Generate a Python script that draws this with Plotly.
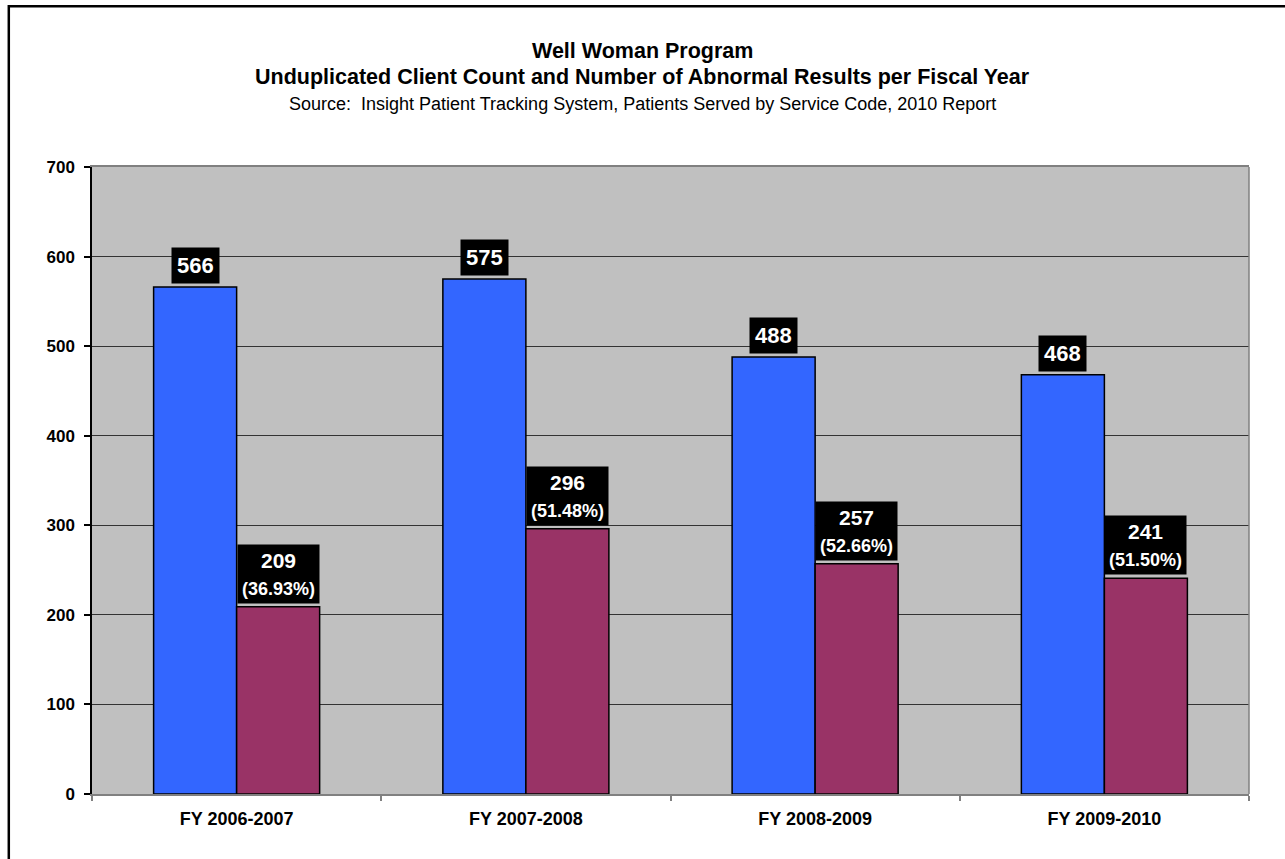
import plotly.graph_objects as go

categories = ["FY 2006-2007", "FY 2007-2008", "FY 2008-2009", "FY 2009-2010"]
client_count = [566, 575, 488, 468]
abnormal_results = [209, 296, 257, 241]
abnormal_pct = ["36.93%", "51.48%", "52.66%", "51.50%"]
y_ticks = [0, 100, 200, 300, 400, 500, 600, 700]

FONT = "Liberation Sans, Arial, sans-serif"
BARGAP = 0.426
W, H = 1285, 859
L, R, T, B = 92, 36, 167, 65
PW, PH = W - L - R, H - T - B

def py(pix):
    return (H - B - pix) / PH

def px(pix):
    return (pix - L) / PW

fig = go.Figure()
fig.add_trace(go.Bar(x=categories, y=client_count, name="Unduplicated Client Count",
                     marker=dict(color="#3366FF", line=dict(color="black", width=1.5))))
fig.add_trace(go.Bar(x=categories, y=abnormal_results, name="Abnormal Results",
                     marker=dict(color="#993366", line=dict(color="black", width=1.5))))

half = (1 - BARGAP) / 4
annotations = []
for i, (c, a, p) in enumerate(zip(client_count, abnormal_results, abnormal_pct)):
    annotations.append(dict(x=i - half, y=c, xref="x", yref="y", text=f"<b>{c}</b>",
                            showarrow=False, yanchor="bottom", yshift=3,
                            font=dict(family=FONT, size=22, color="white"),
                            bgcolor="black", borderpad=5))
    annotations.append(dict(x=i + half, y=a, xref="x", yref="y",
                            text=f"<b>{a}</b><br><b><span style='font-size:18px'>({p})</span></b>",
                            showarrow=False, yanchor="bottom", yshift=3,
                            font=dict(family=FONT, size=21, color="white"),
                            bgcolor="black", borderpad=4))

title_x = px(W / 2)
annotations += [
    dict(x=title_x, y=py(51), xref="paper", yref="paper", showarrow=False,
         text="<b>Well Woman Program</b>", yanchor="middle", xanchor="center",
         font=dict(family=FONT, size=21.5, color="black")),
    dict(x=title_x, y=py(77), xref="paper", yref="paper", showarrow=False,
         text="<b>Unduplicated Client Count and Number of Abnormal Results per Fiscal Year</b>",
         yanchor="middle", xanchor="center", font=dict(family=FONT, size=21.5, color="black")),
    dict(x=title_x, y=py(104), xref="paper", yref="paper", showarrow=False,
         text="Source:  Insight Patient Tracking System, Patients Served by Service Code, 2010 Report",
         yanchor="middle", xanchor="center", font=dict(family=FONT, size=18, color="black")),
]

shapes = [
    dict(type="rect", xref="paper", yref="paper", x0=px(8.8), y0=py(875), x1=px(1300), y1=py(6.2),
         line=dict(color="black", width=2.5), fillcolor="rgba(0,0,0,0)", layer="above"),
    dict(type="line", xref="paper", yref="paper", x0=1, x1=1, y0=0, y1=1,
         line=dict(color="#808080", width=1.5), layer="above"),
]

fig.update_layout(
    width=W, height=H,
    margin=dict(l=L, r=R, t=T, b=B, autoexpand=False),
    paper_bgcolor="white", plot_bgcolor="#C0C0C0",
    barmode="group", bargap=BARGAP, bargroupgap=0,
    showlegend=False,
    annotations=annotations, shapes=shapes,
    font=dict(family=FONT, color="black"),
)
fig.update_xaxes(type="category", showline=True, linecolor="#808080", linewidth=1.5, mirror=True,
                 ticks="outside", tickson="boundaries", ticklen=5, tickcolor="#808080", tickwidth=1.5,
                 showgrid=False, tickfont=dict(family=FONT, size=18, color="black", weight="bold"),
                 ticklabelstandoff=8)
fig.update_yaxes(range=[0, 700], tickvals=y_ticks, showline=True, linecolor="black", linewidth=1.5,
                 ticks="outside", ticklen=6, tickcolor="black", tickwidth=1.5,
                 showgrid=True, gridcolor="#333333", gridwidth=1, zeroline=False,
                 tickfont=dict(family=FONT, size=17, color="black", weight="bold"),
                 ticklabelstandoff=6)

fig.write_html("out.html", config={"displayModeBar": False},
               post_script="document.body.style.margin='0px';")
